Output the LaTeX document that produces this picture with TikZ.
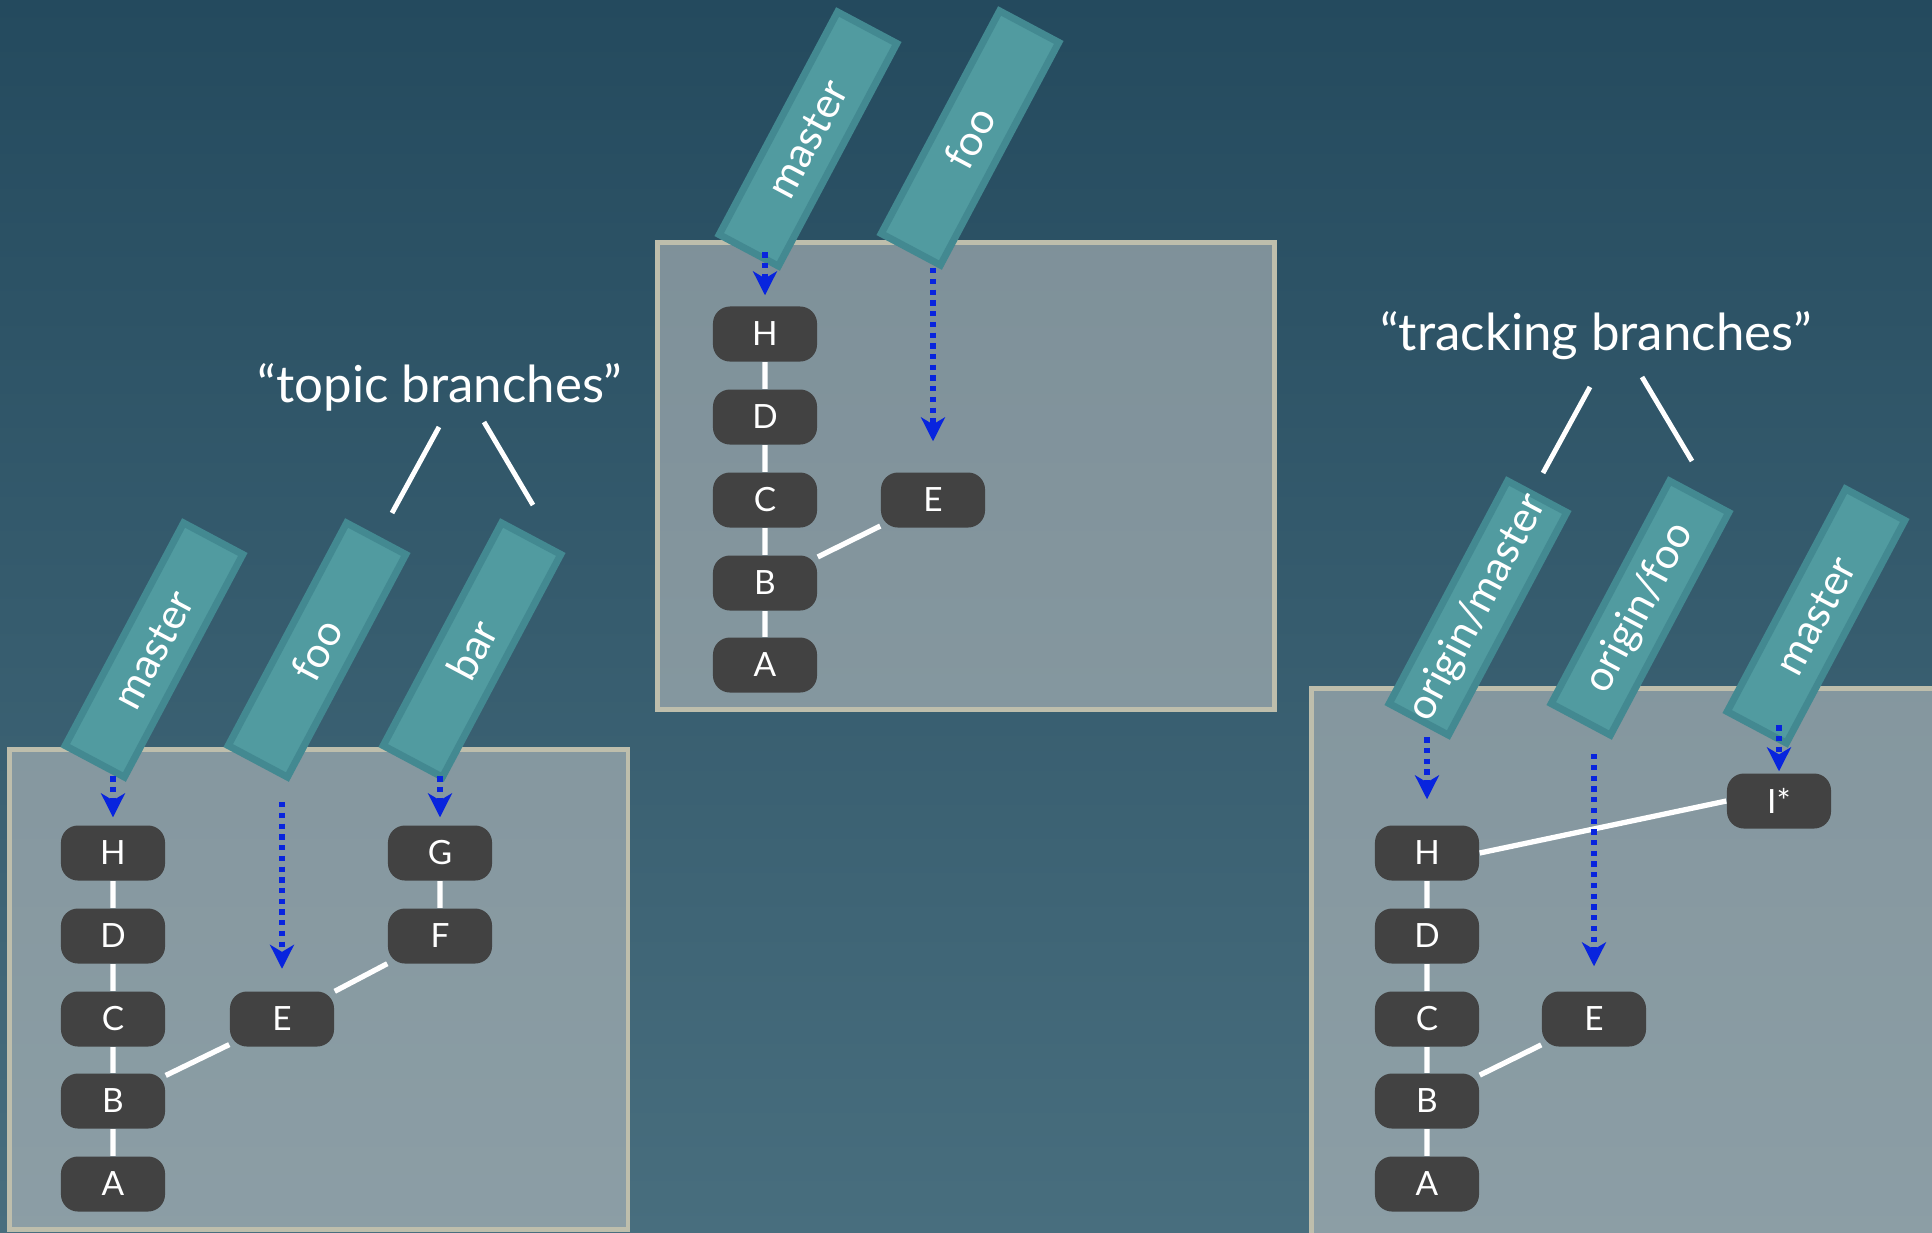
\documentclass[tikz,border=0pt]{standalone}
\usepackage{fontspec}
\setmainfont{Lato}
\usetikzlibrary{arrows.meta}

\definecolor{bgtop}{RGB}{36,74,94}
\definecolor{bgbot}{RGB}{72,110,126}
\definecolor{boxfill}{RGB}{196,198,198}
\definecolor{boxedge}{RGB}{190,190,172}
\definecolor{tealfill}{RGB}{81,155,160}
\definecolor{tealedge}{RGB}{67,137,145}
\definecolor{commitgray}{RGB}{66,66,66}
\definecolor{refblue}{RGB}{8,36,222}

\begin{document}
\begin{tikzpicture}[
 x=0.01cm,y=-0.01cm,
 every node/.style={text=white},
 repo/.style={fill=boxfill,fill opacity=0.55,draw=boxedge,line width=1.4pt},
 commit/.style={fill=commitgray,rounded corners=0.17cm,minimum width=1.04cm,
  minimum height=0.55cm,inner sep=0pt,font=\fontsize{9.5}{11}\selectfont},
 branch/.style={fill=tealfill,draw=tealedge,line width=2pt,minimum width=2.52cm,
  minimum height=0.67cm,inner sep=0pt,rotate=62,font=\fontsize{12}{14}\selectfont},
 link/.style={draw=white,line width=1.5pt},
 ref/.style={draw=refblue,line width=1.5pt,dash pattern=on 1.5pt off 1.55pt,
  -{Stealth[length=6.8pt,width=6.8pt,inset=2pt]}},
 tick/.style={draw=white,line width=1.4pt},
 heading/.style={anchor=base,font=\fontsize{14.5}{17}\selectfont}
]
 \path[use as bounding box,top color=bgtop,bottom color=bgbot]
  (0,0) rectangle (1932,1232);
 \clip (0,0) rectangle (1932,1232);

 % the three repositories
 \path[repo] (9.5,749.5) rectangle (628,1229.5);
 \path[repo] (657.5,242.5) rectangle (1274.5,709.5);
 \path[repo] (1311.5,688.5) rectangle (1960,1260);

 \node[heading] (topic) at (440,402) {“topic branches”};
 \node[heading] (tracking) at (1596,350) {“tracking branches”};
 \coordinate (tb1) at (439,427);
 \coordinate (tb2) at (392,513);
 \coordinate (tb3) at (484,422);
 \coordinate (tb4) at (533,505);
 \coordinate (tr1) at (1590,387);
 \coordinate (tr2) at (1543,473);
 \coordinate (tr3) at (1642,377);
 \coordinate (tr4) at (1692,461);
 \draw[tick] (tb1) -- (tb2) (tb3) -- (tb4);
 \draw[tick] (tr1) -- (tr2) (tr3) -- (tr4);

 % left: topic branches
 \node[branch] (lmaster) at (154,650) {master};
 \node[branch] (lfoo) at (317,650) {foo};
 \node[branch] (lbar) at (472,650) {bar};
 \node[commit] (lH) at (113,853) {H};
 \node[commit] (lD) at (113,936) {D};
 \node[commit] (lC) at (113,1019) {C};
 \node[commit] (lB) at (113,1101) {B};
 \node[commit] (lA) at (113,1184) {A};
 \node[commit] (lE) at (282,1019) {E};
 \node[commit] (lF) at (440,936) {F};
 \node[commit] (lG) at (440,853) {G};
 \draw[link] (lH) -- (lD) (lD) -- (lC) (lC) -- (lB) (lB) -- (lA)
  (lB) -- (lE) (lE) -- (lF) (lF) -- (lG);
 \draw[ref] ([yshift=0.485cm]lH.north) -- ([yshift=0.075cm]lH.north);
 \draw[ref] ([yshift=1.885cm]lE.north) -- ([yshift=0.22cm]lE.north);
 \draw[ref] ([yshift=0.485cm]lG.north) -- ([yshift=0.075cm]lG.north);

 % middle
 \node[branch] (mmaster) at (808,139) {master};
 \node[branch] (mfoo) at (970,138) {foo};
 \node[commit] (mH) at (765,334) {H};
 \node[commit] (mD) at (765,417) {D};
 \node[commit] (mC) at (765,500) {C};
 \node[commit] (mB) at (765,583) {B};
 \node[commit] (mA) at (765,665) {A};
 \node[commit] (mE) at (933,500) {E};
 \draw[link] (mH) -- (mD) (mD) -- (mC) (mC) -- (mB) (mB) -- (mA) (mB) -- (mE);
 \draw[ref] ([yshift=0.535cm]mH.north) -- ([yshift=0.105cm]mH.north);
 \draw[ref] ([yshift=2.035cm]mE.north) -- ([yshift=0.305cm]mE.north);

 % right: tracking branches
 \node[branch] (rorigm) at (1478,608) {origin/master};
 \node[branch] (rorigf) at (1640,608) {origin/foo};
 \node[branch] (rmaster) at (1816,616) {master};
 \node[commit] (rH) at (1427,853) {H};
 \node[commit] (rD) at (1427,936) {D};
 \node[commit] (rC) at (1427,1019) {C};
 \node[commit] (rB) at (1427,1101) {B};
 \node[commit] (rA) at (1427,1184) {A};
 \node[commit] (rE) at (1594,1019) {E};
 \node[commit] (rI) at (1779,801) {I*};
 \draw[link] (rH) -- (rD) (rD) -- (rC) (rC) -- (rB) (rB) -- (rA) (rB) -- (rE)
  (rH.east) -- (rI.west);
 \draw[ref] ([yshift=0.875cm]rH.north) -- ([yshift=0.255cm]rH.north);
 \draw[ref] ([yshift=2.365cm]rE.north) -- ([yshift=0.245cm]rE.north);
 \draw[ref] ([yshift=0.475cm]rI.north) -- ([yshift=0.015cm]rI.north);
\end{tikzpicture}
\end{document}
